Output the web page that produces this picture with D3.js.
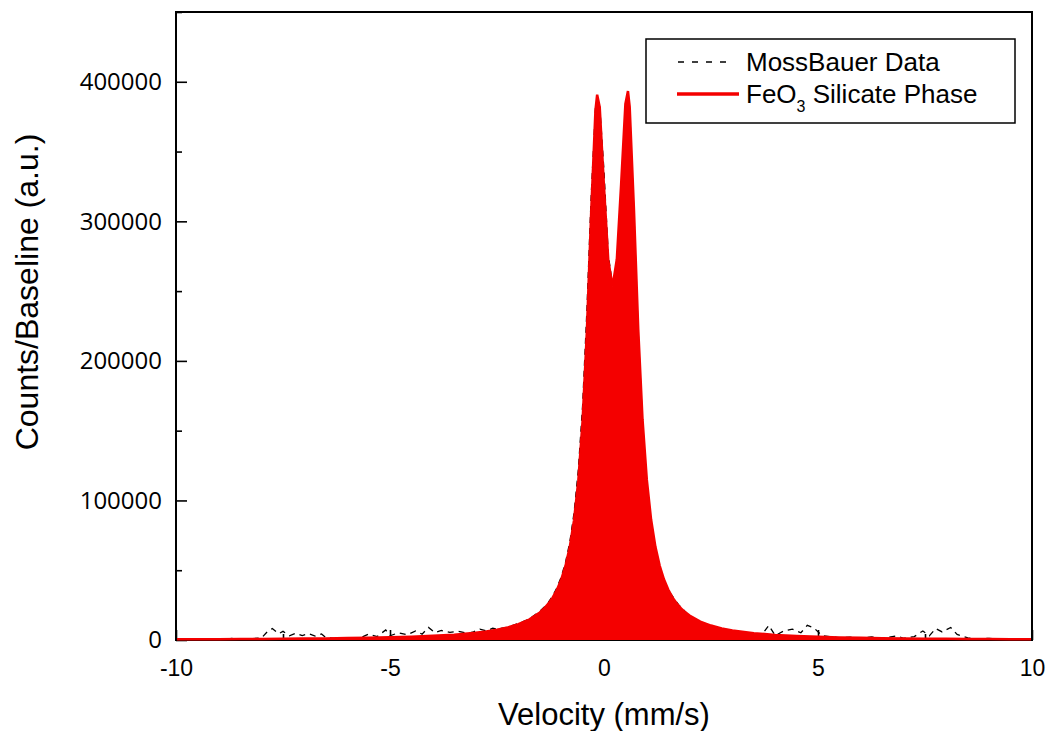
<!DOCTYPE html>
<html>
<head>
<meta charset="utf-8">
<script src="https://cdn.jsdelivr.net/npm/d3@7"></script>
<style>
  html, body { margin: 0; padding: 0; background: #fff; }
  svg { display: block; }
</style>
</head>
<body>
<svg id="chart" width="1048" height="731"></svg>
<script>
// ---- Data ----
const dataVelocity = [
  -10, -9.75, -9.5, -9.25, -9, -8.75, -8.5, -8.25, -8, -7.85, -7.75, -7.6, -7.5, -7.35, -7.2, -7.05, -6.9, -6.75, -6.6, -6.5,
  -6.25, -6, -5.75, -5.5, -5.3, -5.1, -5, -4.8, -4.6, -4.4, -4.25, -4.1, -3.95, -3.8, -3.6, -3.4, -3.2, -3.05, -2.9, -2.75,
  -2.6, -2.5, -2.25, -2, -1.75, -1.5, -1.4, -1.3, -1.2, -1.1, -1.0, -0.9, -0.8, -0.7, -0.6, -0.5, -0.4, -0.3, -0.2, -0.1,
  0.0, 0.1, 0.2, 0.3, 0.4, 0.5, 0.6, 0.7, 0.8, 0.9, 1.0, 1.1, 1.2, 1.3, 1.4, 1.5, 1.75, 2, 2.25, 2.5,
  2.75, 3, 3.25, 3.5, 3.7, 3.85, 4, 4.2, 4.4, 4.6, 4.75, 4.9, 5.1, 5.3, 5.5, 5.75, 6, 6.25, 6.5, 6.84,
  7, 7.25, 7.45, 7.6, 7.75, 7.9, 8.1, 8.25, 8.5, 8.75, 9, 9.25, 9.5, 9.75, 10
];
const dataCounts = [
  300, 900, 200, 1100, 400, 1200, 500, 900, 1500, 6500, 8200, 4500, 6200, 3000, 4800, 3200, 4600, 2800, 4300, 1800,
  1000, 1600, 900, 4200, 2500, 7200, 3000, 5200, 3800, 6500, 4200, 9000, 5200, 6800, 5500, 6200, 4800, 5800, 7800, 6500,
  8400, 7800, 9200, 11800, 15000, 20500, 23500, 27000, 31500, 37500, 45000, 55500, 70000, 91000, 122000, 168000, 236000, 318000, 381000, 383000,
  336000, 276000, 254000, 270000, 322000, 380000, 380000, 305000, 220000, 156000, 113000, 85000, 66000, 52500, 43000, 35500, 25000, 17000, 13000, 10000,
  8000, 6600, 5400, 4600, 4200, 10500, 3200, 6500, 7800, 5200, 10500, 8800, 3000, 2400, 1500, 2000, 1200, 2200, 1000, 3000,
  1200, 2400, 6500, 3000, 8200, 5800, 9000, 4000, 1500, 800, 1200, 600, 1000, 700, 500
];

const fitVelocity = [
  -10, -9.5, -9, -8.5, -8, -7.5, -7, -6.5, -6, -5.5, -5, -4.5, -4, -3.5, -3, -2.75, -2.5, -2.25, -2, -1.75,
  -1.5, -1.4, -1.3, -1.2, -1.1, -1.0, -0.9, -0.8, -0.7, -0.6, -0.5, -0.4, -0.3, -0.2, -0.16, -0.1, 0.0, 0.1, 0.2, 0.3,
  0.4, 0.5, 0.56, 0.6, 0.7, 0.8, 0.9, 1.0, 1.1, 1.2, 1.3, 1.4, 1.5, 1.6, 1.7, 1.8, 1.9, 2.0, 2.25, 2.5,
  2.75, 3.0, 3.5, 4.0, 4.5, 5.0, 5.5, 6.0, 6.5, 7.0, 7.5, 8.0, 8.5, 9.0, 9.5, 10
];
const fitCounts = [
  497, 550, 611, 684, 770, 874, 1001, 1157, 1352, 1602, 1929, 2367, 2974, 3851, 5187, 6134, 7371, 9031, 11330, 14656,
  19730, 22543, 26018, 30378, 35967, 43265, 53051, 66560, 85819, 114202, 157059, 221137, 306172, 379404, 390720, 381726, 324632, 272028, 253330, 272819,
  326289, 384152, 393346, 382001, 308270, 222601, 158044, 114874, 86296, 66906, 53309, 43462, 36122, 30509, 26123, 22629, 19800, 17478, 13205, 10341,
  8324, 6850, 4877, 3652, 2838, 2271, 1858, 1548, 1310, 1123, 974, 852, 752, 669, 599, 539
];

const xTicks = [-10, -5, 0, 5, 10];
const xMinorTicks = [-7.5, -2.5, 2.5, 7.5];
const yTicks = [0, 100000, 200000, 300000, 400000];
const yMinorTicks = [50000, 150000, 250000, 350000, 450000];

const xLabel = "Velocity (mm/s)";
const yLabel = "Counts/Baseline (a.u.)";
const legendData = "MossBauer Data";
const legendFit = ["FeO", "3", " Silicate Phase"];

// ---- Layout ----
const pLeft = 176, pRight = 1032, pTop = 12, pBottom = 640;
const red = "#f40000";

const svg = d3.select("#chart");
const x = d3.scaleLinear().domain([-10, 10]).range([pLeft, pRight]);
const y = d3.scaleLinear().domain([0, 450000]).range([pBottom, pTop]);

// ---- Axes (drawn beneath the data, as in the reference) ----
const axisFontX = "'Liberation Sans', Arial, sans-serif";
const axisFontY = "'Open Sans', 'Noto Sans', sans-serif";

// frame
svg.append("rect").attr("x", pLeft).attr("y", pTop).attr("width", pRight - pLeft).attr("height", pBottom - pTop)
  .attr("fill", "none").attr("stroke", "#000").attr("stroke-width", 2);

const xAxis = d3.axisBottom(x).tickValues(xTicks).tickSizeInner(-10).tickSizeOuter(0).tickPadding(20)
  .tickFormat(d3.format("d"));
const gx = svg.append("g").attr("transform", `translate(0,${pBottom})`).call(xAxis);
gx.select(".domain").remove();
gx.selectAll(".tick line").attr("stroke", "#000").attr("stroke-width", 1.6);
gx.selectAll(".tick text").attr("font-family", axisFontX).attr("font-size", 23).attr("fill", "#000")
  .text(d => d < 0 ? "-" + Math.abs(d) : d);
const gxm = svg.append("g").attr("transform", `translate(0,${pBottom})`)
  .call(d3.axisBottom(x).tickValues(xMinorTicks).tickSizeInner(-6).tickSizeOuter(0).tickFormat(""));
gxm.select(".domain").remove();
gxm.selectAll(".tick line").attr("stroke", "#000").attr("stroke-width", 1.6);

const yAxis = d3.axisLeft(y).tickValues(yTicks).tickSizeInner(-11).tickSizeOuter(0).tickPadding(14)
  .tickFormat(d3.format("d"));
const gy = svg.append("g").attr("transform", `translate(${pLeft},0)`).call(yAxis);
gy.select(".domain").remove();
gy.selectAll(".tick line").attr("stroke", "#000").attr("stroke-width", 1.6);
gy.selectAll(".tick text").attr("font-family", axisFontY).attr("font-size", 24).attr("fill", "#000");
const gym = svg.append("g").attr("transform", `translate(${pLeft},0)`)
  .call(d3.axisLeft(y).tickValues(yMinorTicks).tickSizeInner(-6).tickSizeOuter(0).tickFormat(""));
gym.select(".domain").remove();
gym.selectAll(".tick line").attr("stroke", "#000").attr("stroke-width", 1.6);

// ---- Plot ----
svg.append("defs").append("clipPath").attr("id", "clip")
  .append("rect").attr("x", pLeft + 1).attr("y", pTop).attr("width", pRight - pLeft - 2).attr("height", pBottom - pTop + 2);

const plot = svg.append("g").attr("clip-path", "url(#clip)");

const dataPts = dataVelocity.map((v, i) => [v, dataCounts[i]]);
const fitPts = fitVelocity.map((v, i) => [v, fitCounts[i]]);

// data (dashed)
plot.append("path")
  .datum(dataPts)
  .attr("fill", "none")
  .attr("stroke", "#000")
  .attr("stroke-width", 1.3)
  .attr("stroke-dasharray", "6,5")
  .attr("d", d3.line().x(d => x(d[0])).y(d => y(d[1])));

// fit (filled red)
plot.append("path")
  .datum(fitPts)
  .attr("fill", red)
  .attr("stroke", "none")
  .attr("d", d3.area().x(d => x(d[0])).y0(y(0)).y1(d => y(d[1])));
plot.append("path")
  .datum(fitPts)
  .attr("fill", "none")
  .attr("stroke", red)
  .attr("stroke-width", 2.5)
  .attr("d", d3.line().x(d => x(d[0])).y(d => y(d[1])));

// axis titles
svg.append("text").attr("x", (pLeft + pRight) / 2).attr("y", 725).attr("text-anchor", "middle")
  .attr("font-family", axisFontX).attr("font-size", 31).attr("fill", "#000").text(xLabel);
svg.append("text").attr("transform", `translate(38,${(pTop + pBottom) / 2 - 34}) rotate(-90)`)
  .attr("text-anchor", "middle")
  .attr("font-family", axisFontX).attr("font-size", 32).attr("fill", "#000").text(yLabel);

// ---- Legend ----
const lg = svg.append("g");
lg.append("rect").attr("x", 646).attr("y", 39).attr("width", 369).attr("height", 84)
  .attr("fill", "#fff").attr("stroke", "#000").attr("stroke-width", 1.5);
lg.append("line").attr("x1", 678).attr("x2", 734).attr("y1", 62).attr("y2", 62)
  .attr("stroke", "#000").attr("stroke-width", 1.3).attr("stroke-dasharray", "6,8");
lg.append("text").attr("x", 746).attr("y", 71).attr("font-family", axisFontX).attr("font-size", 26)
  .attr("fill", "#000").text(legendData);
lg.append("line").attr("x1", 677).attr("x2", 739).attr("y1", 94).attr("y2", 94)
  .attr("stroke", red).attr("stroke-width", 3.5);
const t2 = lg.append("text").attr("x", 746).attr("y", 103).attr("font-family", axisFontX).attr("font-size", 26)
  .attr("fill", "#000");
t2.append("tspan").text(legendFit[0]);
t2.append("tspan").attr("font-size", 16).attr("dy", 9).text(legendFit[1]);
t2.append("tspan").attr("dy", -9).text(legendFit[2]);
</script>
</body>
</html>
